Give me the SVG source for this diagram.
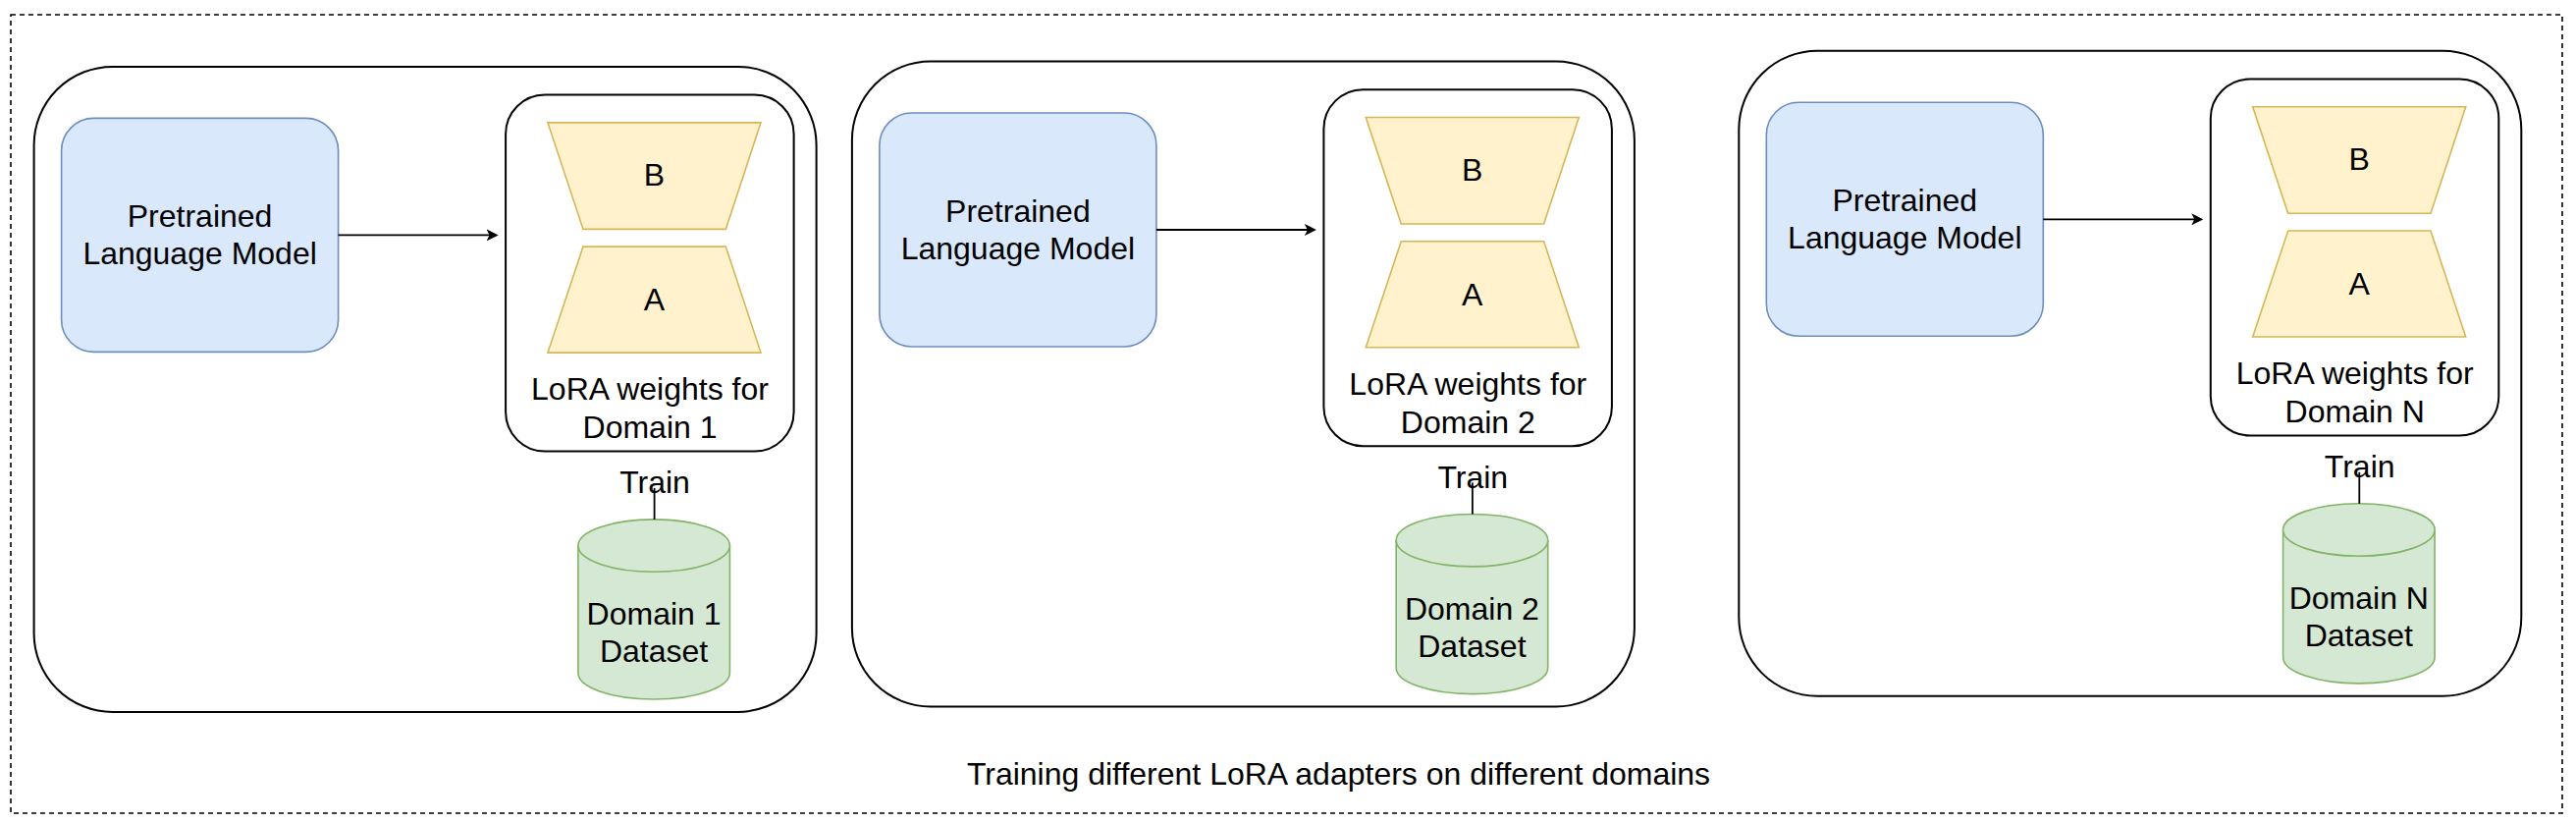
<svg xmlns="http://www.w3.org/2000/svg" width="2624" height="838" viewBox="0 0 2624 838">
<style>
text{font-family:"Liberation Sans",Arial,sans-serif;font-size:32px;fill:#000;text-anchor:middle}
.frame{fill:none;stroke:#000;stroke-width:1.6;stroke-dasharray:5 4}
.panel{fill:#fff;stroke:#000;stroke-width:2}
.plm{fill:#dae8fc;stroke:#6c8ebf;stroke-width:1.6}
.lora{fill:#fff;stroke:#000;stroke-width:2}
.trap{fill:#fff2cc;stroke:#d6b656;stroke-width:1.6}
.cyl{fill:#d5e8d4;stroke:#82b366;stroke-width:1.6}
.edge{fill:none;stroke:#000;stroke-width:1.8}
</style>
<defs>
<marker id="arr" markerWidth="12" markerHeight="12" refX="10" refY="6" orient="auto" markerUnits="userSpaceOnUse">
<path d="M0,0 L12,6 L0,12 L3,6 Z" fill="#000"/>
</marker>
</defs>
<rect class="frame" x="11" y="15" width="2599" height="813"/>

<g id="panel1" transform="translate(34.6,67.9)">
<rect class="panel" x="0" y="0" width="797" height="657" rx="80" ry="80"/>
<g id="plm1">
<rect class="plm" x="28" y="52.5" width="282" height="238" rx="33" ry="33"/>
<text x="169" y="163">Pretrained</text>
<text x="169" y="201">Language Model</text>
</g>
<g id="lora1">
<rect class="lora" x="480.5" y="28.7" width="293.5" height="363" rx="40" ry="40"/>
<polygon class="trap" points="523.4,57 740.4,57 704.7,165.5 559.4,165.5"/>
<text x="631.8" y="121.5">B</text>
<polygon class="trap" points="559.4,183.2 704.7,183.2 740.4,291.2 523.4,291.2"/>
<text x="631.8" y="248.3">A</text>
<text x="627.4" y="339">LoRA weights for</text>
<text x="627.4" y="378">Domain 1</text>
</g>
<g id="train1"><text x="632.4" y="434.5">Train</text></g>
<g id="data1">
<path class="cyl" d="M554.3,487.7 A77.25,26.7 0 0 1 708.8,487.7 L708.8,617.4 A77.25,26.7 0 0 1 554.3,617.4 Z"/>
<path class="cyl" fill="none" d="M554.3,487.7 A77.25,26.7 0 0 0 708.8,487.7"/>
<text x="631.5" y="568">Domain 1</text>
<text x="631.5" y="606">Dataset</text>
</g>
<g id="edges1">
<line class="edge" x1="310" y1="171.5" x2="471" y2="171.5" marker-end="url(#arr)"/>
<line class="edge" x1="632" y1="429" x2="632" y2="461"/>
</g>
</g>

<g id="panel2" transform="translate(867.9,62.5)">
<rect class="panel" x="0" y="0" width="797" height="657" rx="80" ry="80"/>
<g id="plm2">
<rect class="plm" x="28" y="52.5" width="282" height="238" rx="33" ry="33"/>
<text x="169" y="163">Pretrained</text>
<text x="169" y="201">Language Model</text>
</g>
<g id="lora2">
<rect class="lora" x="480.5" y="28.7" width="293.5" height="363" rx="40" ry="40"/>
<polygon class="trap" points="523.4,57 740.4,57 704.7,165.5 559.4,165.5"/>
<text x="631.8" y="121.5">B</text>
<polygon class="trap" points="559.4,183.2 704.7,183.2 740.4,291.2 523.4,291.2"/>
<text x="631.8" y="248.3">A</text>
<text x="627.4" y="339">LoRA weights for</text>
<text x="627.4" y="378">Domain 2</text>
</g>
<g id="train2"><text x="632.4" y="434.5">Train</text></g>
<g id="data2">
<path class="cyl" d="M554.3,487.7 A77.25,26.7 0 0 1 708.8,487.7 L708.8,617.4 A77.25,26.7 0 0 1 554.3,617.4 Z"/>
<path class="cyl" fill="none" d="M554.3,487.7 A77.25,26.7 0 0 0 708.8,487.7"/>
<text x="631.5" y="568">Domain 2</text>
<text x="631.5" y="606">Dataset</text>
</g>
<g id="edges2">
<line class="edge" x1="310" y1="171.5" x2="471" y2="171.5" marker-end="url(#arr)"/>
<line class="edge" x1="632" y1="429" x2="632" y2="461"/>
</g>
</g>

<g id="panel3" transform="translate(1771.3,51.8)">
<rect class="panel" x="0" y="0" width="797" height="657" rx="80" ry="80"/>
<g id="plm3">
<rect class="plm" x="28" y="52.5" width="282" height="238" rx="33" ry="33"/>
<text x="169" y="163">Pretrained</text>
<text x="169" y="201">Language Model</text>
</g>
<g id="lora3">
<rect class="lora" x="480.5" y="28.7" width="293.5" height="363" rx="40" ry="40"/>
<polygon class="trap" points="523.4,57 740.4,57 704.7,165.5 559.4,165.5"/>
<text x="631.8" y="121.5">B</text>
<polygon class="trap" points="559.4,183.2 704.7,183.2 740.4,291.2 523.4,291.2"/>
<text x="631.8" y="248.3">A</text>
<text x="627.4" y="339">LoRA weights for</text>
<text x="627.4" y="378">Domain N</text>
</g>
<g id="train3"><text x="632.4" y="434.5">Train</text></g>
<g id="data3">
<path class="cyl" d="M554.3,487.7 A77.25,26.7 0 0 1 708.8,487.7 L708.8,617.4 A77.25,26.7 0 0 1 554.3,617.4 Z"/>
<path class="cyl" fill="none" d="M554.3,487.7 A77.25,26.7 0 0 0 708.8,487.7"/>
<text x="631.5" y="568">Domain N</text>
<text x="631.5" y="606">Dataset</text>
</g>
<g id="edges3">
<line class="edge" x1="310" y1="171.5" x2="471" y2="171.5" marker-end="url(#arr)"/>
<line class="edge" x1="632" y1="429" x2="632" y2="461"/>
</g>
</g>

<g id="caption"><text x="1363.5" y="799">Training different LoRA adapters on different domains</text></g>
</svg>
